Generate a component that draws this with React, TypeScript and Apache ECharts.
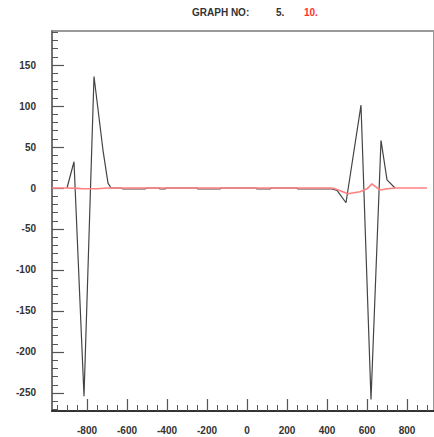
import React, { useEffect, useRef } from "react";
import * as echarts from "echarts";

// Black graph (graph no. 5)
const blackX = [-900, -865, -815, -765, -720, -695, -680, -630, -620, -510, -500, -440, -435, -410, -405, -250, -245, -135, -130, 45, 50, 115, 120, 250, 255, 425, 450, 495, 570, 620, 670, 700, 740];
const blackY = [0, 32, -254, 136, 46, 6, 0, 0, -1.2, -1.2, 0, 0, -1.2, -1.2, 0, 0, -1.2, -1.2, 0, 0, -1.2, -1.2, 0, 0, -1.2, -1.2, -3, -18, 101, -258, 58, 10, 0];

// Red graph (graph no. 10)
const redX = [-975, -900, -850, -820, -750, -700, -600, -400, -200, 0, 200, 420, 440, 505, 565, 600, 625, 665, 700, 740, 900];
const redY = [0, 0, -0.5, -1, -1, 0, 0, 0, 0, 0, 0, 0, -1, -7, -4.5, -1, 5, -2.5, -1, 0, 0];

const xMajor = [-800, -600, -400, -200, 0, 200, 400, 600, 800];
const yMajor = [-250, -200, -150, -100, -50, 0, 50, 100, 150];
const xMinor: number[] = [];
for (let v = -950; v <= 900; v += 50) xMinor.push(v);
const yMinor: number[] = [];
for (let v = -270; v <= 190; v += 10) yMinor.push(v);

const X_MIN = -975;
const X_MAX = 935;
const Y_MIN = -272;
const Y_MAX = 191.5;

export default function App() {
  const ref = useRef<HTMLDivElement>(null);
  useEffect(() => {
    if (!ref.current) return;
    const chart = echarts.init(ref.current, undefined, { renderer: "svg" });
    const font = "Liberation Sans";
    const labelStyle = {
      color: "#333",
      fontSize: 10,
      fontWeight: "bold" as const,
      fontFamily: font,
    };
    chart.setOption({
      animation: false,
      backgroundColor: "#fff",
      graphic: [
        { type: "text", left: 192, top: 7, style: { text: "GRAPH NO:", fill: "#333", font: `bold 10px ${font}` } },
        { type: "text", left: 276, top: 7, style: { text: "5.", fill: "#333", font: `bold 10px ${font}` } },
        { type: "text", left: 304, top: 7, style: { text: "10.", fill: "#ff3030", font: `bold 10px ${font}` } },
      ],
      grid: {
        left: 52,
        top: 31,
        width: 384,
        height: 380,
        show: true,
        borderColor: "#999",
        borderWidth: 2,
        backgroundColor: "transparent",
      },
      xAxis: [
        {
          type: "value",
          min: X_MIN,
          max: X_MAX,
          position: "bottom",
          axisLine: { show: true, onZero: false, lineStyle: { color: "#333", width: 2 } },
          axisTick: { show: true, inside: true, length: 12, customValues: xMajor, lineStyle: { color: "#555", width: 1.2 } },
          axisLabel: { show: true, margin: 14, customValues: xMajor, ...labelStyle },
          splitLine: { show: false },
        },
        {
          type: "value",
          min: X_MIN,
          max: X_MAX,
          position: "bottom",
          axisLine: { show: false, onZero: false },
          axisTick: { show: true, inside: true, length: 6, customValues: xMinor, lineStyle: { color: "#555", width: 1 } },
          axisLabel: { show: false },
          splitLine: { show: false },
        },
      ],
      yAxis: [
        {
          type: "value",
          min: Y_MIN,
          max: Y_MAX,
          position: "left",
          axisLine: { show: true, onZero: false, lineStyle: { color: "#666", width: 1.5 } },
          axisTick: { show: true, inside: true, length: 12, customValues: yMajor, lineStyle: { color: "#555", width: 1.2 } },
          axisLabel: { show: true, margin: 16, customValues: yMajor, ...labelStyle },
          splitLine: { show: false },
        },
        {
          type: "value",
          min: Y_MIN,
          max: Y_MAX,
          position: "left",
          axisLine: { show: false, onZero: false },
          axisTick: { show: true, inside: true, length: 6, customValues: yMinor, lineStyle: { color: "#555", width: 1 } },
          axisLabel: { show: false },
          splitLine: { show: false },
        },
      ],
      series: [
        {
          type: "line",
          xAxisIndex: 0,
          yAxisIndex: 0,
          data: blackX.map((x, i) => [x, blackY[i]]),
          showSymbol: false,
          symbol: "none",
          lineStyle: { color: "#444", width: 1.2 },
          z: 2,
        },
        {
          type: "line",
          xAxisIndex: 0,
          yAxisIndex: 0,
          data: redX.map((x, i) => [x, redY[i]]),
          showSymbol: false,
          symbol: "none",
          lineStyle: { color: "#ff8080", width: 1.6 },
          z: 3,
        },
      ],
    });
    return () => chart.dispose();
  }, []);
  return (
    <div
      ref={ref}
      style={{ position: "fixed", left: 0, top: 0, width: 434, height: 437 }}
    />
  );
}
